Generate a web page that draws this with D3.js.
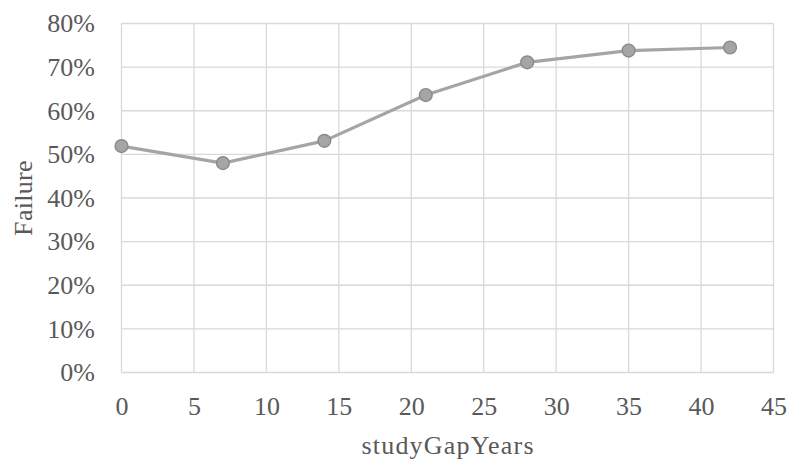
<!DOCTYPE html>
<html>
<head>
<meta charset="utf-8">
<script src="https://cdn.jsdelivr.net/npm/d3@7"></script>
<style>
  html, body { margin: 0; padding: 0; background: #fff; }
  svg text { font-family: "Liberation Serif", "Times New Roman", serif; fill: #595959; }
</style>
</head>
<body>
<svg id="chart" width="789" height="461"></svg>
<script>
// Failure rate by years of study gap
const gapYears = [0, 7, 14, 21, 28, 35, 42];
const failureRate = [0.519, 0.480, 0.531, 0.636, 0.711, 0.738, 0.745];
const xTicks = [0, 5, 10, 15, 20, 25, 30, 35, 40, 45];
const yTicks = [0, 0.1, 0.2, 0.3, 0.4, 0.5, 0.6, 0.7, 0.8];

const svg = d3.select("#chart");
const W = 789, H = 461;
const margin = { left: 121.5, right: W - 773.5, top: 23.5, bottom: H - 372.5 };
const fontSize = 26;

const x = d3.scaleLinear().domain([0, 45]).range([margin.left, W - margin.right]);
const y = d3.scaleLinear().domain([0, 0.8]).range([H - margin.bottom, margin.top]);

// gridlines
const grid = svg.append("g").attr("stroke", "#d9d9d9").attr("stroke-width", 1.3);
grid.selectAll("line.h").data(yTicks).join("line")
  .attr("x1", x(0)).attr("x2", x(45))
  .attr("y1", d => y(d)).attr("y2", d => y(d));
grid.selectAll("line.v").data(xTicks).join("line")
  .attr("x1", d => x(d)).attr("x2", d => x(d))
  .attr("y1", y(0)).attr("y2", y(0.8));

// axes (labels only)
const yAxis = d3.axisLeft(y).tickValues(yTicks).tickFormat(d3.format(".0%")).tickSize(0).tickPadding(26.5);
const gy = svg.append("g").attr("transform", `translate(${x(0)},0)`).call(yAxis);
gy.select(".domain").remove();
gy.attr("font-family", null).attr("font-size", fontSize);
gy.selectAll("text").attr("fill", null);

const xAxis = d3.axisBottom(x).tickValues(xTicks).tickFormat(d3.format("d")).tickSize(0).tickPadding(24);
const gx = svg.append("g").attr("transform", `translate(0,${y(0)})`).call(xAxis);
gx.select(".domain").remove();
gx.attr("font-family", null).attr("font-size", fontSize);
gx.selectAll("text").attr("fill", null);

// axis titles
svg.append("text")
  .attr("x", (x(0) + x(45)) / 2 + 0.6).attr("y", 454)
  .attr("text-anchor", "middle").attr("font-size", fontSize)
  .attr("letter-spacing", 1.2)
  .text("studyGapYears");
svg.append("text")
  .attr("transform", `translate(32,${(y(0) + y(0.8)) / 2}) rotate(-90)`)
  .attr("text-anchor", "middle").attr("font-size", fontSize)
  .attr("letter-spacing", 0.3)
  .text("Failure");

// series line
const line = d3.line().x((d, i) => x(gapYears[i])).y(d => y(d));
svg.append("path").datum(failureRate)
  .attr("d", line).attr("fill", "none")
  .attr("stroke", "#a5a5a5").attr("stroke-width", 3.2).attr("stroke-linejoin", "round");

// markers
svg.append("g").selectAll("circle").data(failureRate).join("circle")
  .attr("cx", (d, i) => x(gapYears[i])).attr("cy", d => y(d))
  .attr("r", 6.4)
  .attr("fill", "#a5a5a5").attr("stroke", "#8a8a8a").attr("stroke-width", 1.4);
</script>
</body>
</html>
